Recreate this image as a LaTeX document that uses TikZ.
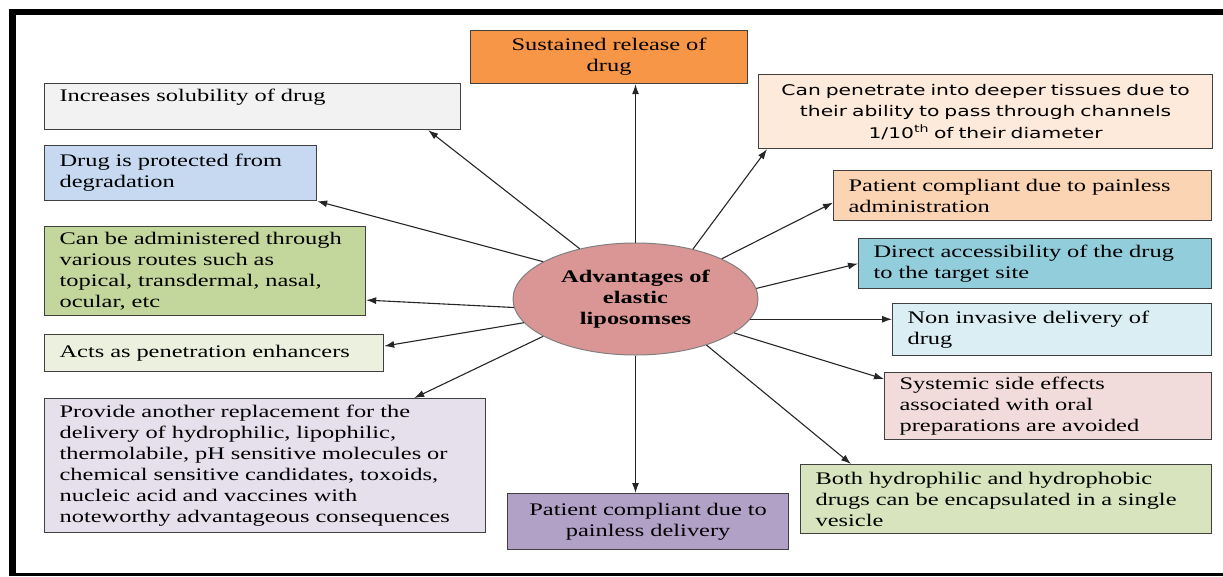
\documentclass[tikz,border=0pt]{standalone}
\usepackage{fontspec}
\setmainfont{Liberation Serif}[FakeStretch=1.38]
\newfontfamily\widesans{DejaVu Sans}[FakeStretch=1.38]
\usetikzlibrary{arrows.meta,shapes.geometric}
\usepackage{xcolor}
\definecolor{sustorange}{RGB}{247,150,70}
\definecolor{solgray}{RGB}{242,242,242}
\definecolor{protblue}{RGB}{198,217,241}
\definecolor{routegreen}{RGB}{195,214,155}
\definecolor{enhgreen}{RGB}{235,241,222}
\definecolor{replilac}{RGB}{229,224,236}
\definecolor{painpurple}{RGB}{178,161,199}
\definecolor{tisspeach}{RGB}{253,234,218}
\definecolor{adminpeach}{RGB}{251,212,180}
\definecolor{accblue}{RGB}{146,205,220}
\definecolor{noninvblue}{RGB}{218,238,243}
\definecolor{sysrose}{RGB}{242,220,219}
\definecolor{bothgreen}{RGB}{215,228,189}
\definecolor{ellrose}{RGB}{217,150,148}

\begin{document}
\begin{tikzpicture}[x=1pt, y=-1pt, font=\fontsize{17.7}{21}\selectfont,
  advbox/.style={draw=black!75, line width=1.2pt, anchor=north west, inner xsep=15pt, inner ysep=3pt, align=left},
  link/.style={-{Latex[length=10pt,width=7pt]}, black!85, line width=1.1pt}]
\useasboundingbox (0,0) rectangle (1223,576);
\draw[line width=7pt] (12.5,9) -- (12.5,576);
\draw[line width=5.5pt] (9,11.8) -- (1223,11.8);
\draw[line width=3.5pt] (9,574.3) -- (1223,574.3);
\node[advbox, fill=sustorange, minimum height=53pt, text width=247pt, align=center] (sust) at (470,30)
  {Sustained release of\\drug};
\node[advbox, fill=solgray, minimum height=46pt, text width=386pt, text depth=22pt] (inc) at (44,83)
  {Increases solubility of drug};
\node[advbox, fill=protblue, minimum height=55pt, text width=242pt] (prot) at (44,145)
  {Drug is protected from\\degradation};
\node[advbox, fill=routegreen, minimum height=89pt, text width=291pt] (route) at (44,226)
  {Can be administered through\\various routes such as\\topical, transdermal, nasal,\\ocular, etc};
\node[advbox, fill=enhgreen, minimum height=37pt, text width=309pt] (enh) at (44,334)
  {Acts as penetration enhancers};
\node[advbox, fill=replilac, minimum height=134pt, text width=411pt] (repl) at (44,398)
  {Provide another replacement for the\\delivery of hydrophilic, lipophilic,\\thermolabile, pH sensitive molecules or\\chemical sensitive candidates, toxoids,\\nucleic acid and vaccines with\\noteworthy advantageous consequences};
\node[advbox, fill=painpurple, minimum height=56pt, text width=251pt, align=center] (pdel) at (507,493)
  {Patient compliant due to\\painless delivery};
\node[advbox, fill=tisspeach, minimum height=74pt, text width=424pt, align=center,
      font=\widesans\fontsize{14.7}{21.5}\selectfont] (tiss) at (758,74)
  {Can penetrate into deeper tissues due to\\their ability to pass through channels\\1/10\textsuperscript{th} of their diameter};
\node[advbox, fill=adminpeach, minimum height=50pt, text width=348pt] (adm) at (833,170)
  {Patient compliant due to painless\\administration};
\node[advbox, fill=accblue, minimum height=50pt, text width=323pt] (acc) at (858,238)
  {Direct accessibility of the drug\\to the target site};
\node[advbox, fill=noninvblue, minimum height=52pt, text width=289pt] (noninv) at (892,303)
  {Non invasive delivery of\\drug};
\node[advbox, fill=sysrose, minimum height=67pt, text width=297pt] (sys) at (884,372)
  {Systemic side effects\\associated with oral\\preparations are avoided};
\node[advbox, fill=bothgreen, minimum height=69pt, text width=381pt] (both) at (800,464)
  {Both hydrophilic and hydrophobic\\drugs can be encapsulated in a single\\vesicle};
\node[ellipse, draw=black!50, line width=1pt, fill=ellrose, minimum width=245pt, minimum height=112pt,
      inner sep=0pt, align=center, font=\bfseries\fontsize{17.7}{21}\selectfont] (ell) at (635.5,299)
  {Advantages of\\elastic\\liposomses};
\draw[link] (ell.north) -- (ell.north |- sust.south);
\draw[link] (ell.138) -- ([xshift=-33pt]inc.south east);
\draw[link] (ell.158) -- (prot.south east);
\draw[link] (ell.184) -- ([yshift=-29pt]route.east);
\draw[link] (ell.192) -- ([yshift=7pt]enh.east);
\draw[link] (ell.202) -- ([xshift=-72pt]repl.north east);
\draw[link] (ell.south) -- (ell.south |- pdel.north);
\draw[link] (ell.41) -- ([xshift=9pt]tiss.south west);
\draw[link] (ell.25) -- ([yshift=-7pt]adm.west);
\draw[link] (ell.5) -- (acc.west);
\draw[link] (ell.350) -- (ell.350 -| noninv.west);
\draw[link] (ell.341) -- ([yshift=-7pt]sys.north west);
\draw[link] (ell.327) -- ([xshift=51pt]both.north west);
\end{tikzpicture}
\end{document}
